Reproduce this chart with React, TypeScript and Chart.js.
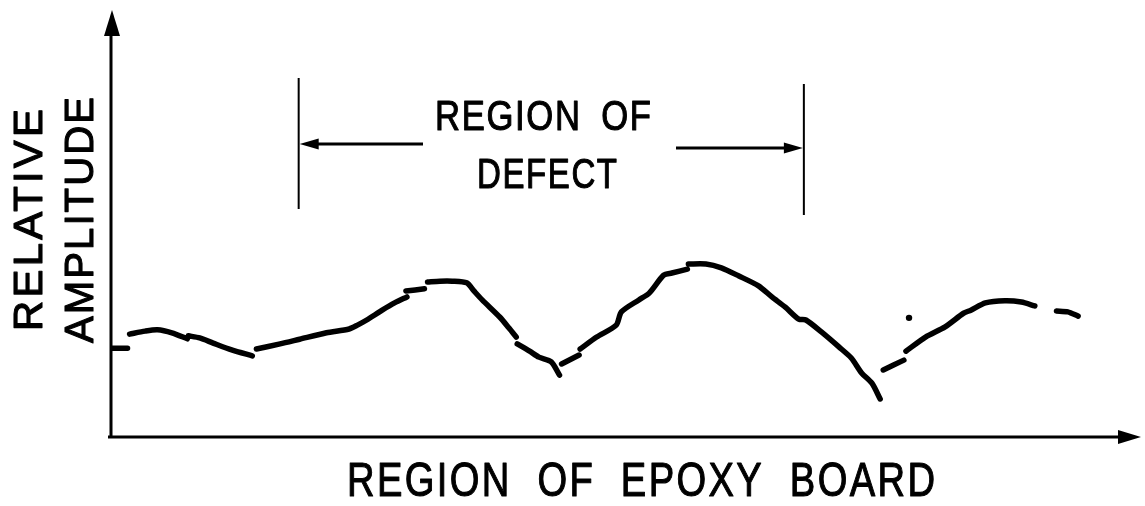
import React, { useEffect, useRef } from "react";
import { Chart, registerables } from "chart.js";

Chart.register(...registerables);

// Position along the epoxy board (0 = origin, 100 = arrow tip); null amplitude = pen lift
const boardPosition: number[] = [
  0, 1.7, 1.8,
  1.9, 3.4, 4.6, 6.0, 7.5, 7.55,
  7.6, 8.7, 10.0, 11.8, 13.8, 14.0,
  14.2, 16.5, 18.4, 21.0, 23.2, 24.0, 24.9, 26.4, 27.6, 28.8, 28.75,
  28.7, 30.5, 30.6,
  30.8, 32.0, 33.2, 34.6, 35.3, 36.1, 37.8, 38.7, 39.4, 39.45,
  39.5, 40.7, 41.6, 42.8, 43.6, 43.7,
  43.8, 45.5, 45.55,
  45.6, 47.2, 49.1, 49.6, 51.3, 52.3, 53.7, 54.5, 56.0, 56.05,
  56.1, 57.8, 59.3, 61.0, 62.9, 64.2, 65.5, 66.8, 67.5, 69.0, 70.7, 71.9, 72.9, 73.9, 74.7, 74.85,
  75.0, 77.0, 77.1,
  77.2, 79.1, 81.0, 82.8, 83.5, 84.9, 86.8, 88.4, 89.7, 90.7,
  91.8, 92.9, 93.9,
];

const relativeAmplitude: (number | null)[] = [
  20.8, 20.8, null,
  24.1, 24.8, 25.1, 24.4, 23.0, null,
  23.7, 23.2, 22.0, 20.4, 19.0, null,
  20.6, 21.8, 22.9, 24.4, 25.3, 26.2, 27.4, 29.7, 31.4, 32.8, null,
  34.2, 34.7, null,
  36.3, 36.5, 36.5, 36.1, 34.2, 32.1, 28.1, 25.5, 23.4, null,
  21.8, 20.1, 18.7, 17.6, 14.5, null,
  17.1, 19.2, null,
  20.6, 23.4, 26.2, 29.3, 32.1, 33.7, 37.9, 38.4, 39.3, null,
  40.5, 40.5, 39.6, 37.7, 35.4, 32.8, 30.4, 27.6, 27.4, 24.6, 21.1, 18.5, 15.0, 12.6, 8.9, null,
  15.7, 18.0, null,
  20.1, 23.4, 25.8, 29.0, 29.7, 31.4, 31.9, 31.6, 30.7, null,
  29.5, 29.3, 28.3,
];

const strayDotPosition: number[] = [77.5];
const strayDotAmplitude: number[] = [27.9];

const defectStart = 18.3;
const defectEnd = 67.3;

const xAxisTitle = "REGION OF EPOXY BOARD";
const yAxisTitle = ["RELATIVE", "AMPLITUDE"];
const defectLabel = ["REGION OF", "DEFECT"];

const FONT = '"Liberation Sans", Arial, Helvetica, sans-serif';
const INK = "#000000";

function fitText(
  ctx: CanvasRenderingContext2D,
  text: string,
  x: number,
  y: number,
  size: number,
  width: number,
  angle = 0,
  letter = 0,
  word = 0
) {
  ctx.save();
  ctx.font = `${size}px ${FONT}`;
  const c: any = ctx;
  if ("letterSpacing" in c) c.letterSpacing = `${letter}px`;
  if ("wordSpacing" in c) c.wordSpacing = `${word}px`;
  const w = ctx.measureText(text).width - letter;
  ctx.translate(x, y);
  if (angle) ctx.rotate(angle);
  ctx.scale(width / w, 1);
  ctx.textAlign = "left";
  ctx.textBaseline = "alphabetic";
  ctx.fillStyle = INK;
  ctx.strokeStyle = INK;
  ctx.lineWidth = 1.1;
  ctx.lineJoin = "round";
  ctx.fillText(text, -w / 2, 0);
  ctx.strokeText(text, -w / 2, 0);
  ctx.restore();
}

function arrowHead(
  ctx: CanvasRenderingContext2D,
  tipX: number,
  tipY: number,
  dirX: number,
  dirY: number,
  len: number,
  half: number
) {
  const bx = tipX - dirX * len;
  const by = tipY - dirY * len;
  const px = -dirY;
  const py = dirX;
  ctx.beginPath();
  ctx.moveTo(tipX, tipY);
  ctx.lineTo(bx + px * half, by + py * half);
  ctx.lineTo(bx - px * half, by - py * half);
  ctx.closePath();
  ctx.fill();
}

const drawingPlugin = {
  id: "patentDrawing",
  afterDatasetsDraw(chart: any) {
    const ctx: CanvasRenderingContext2D = chart.ctx;
    const { left, right, top, bottom } = chart.chartArea;
    const xs = chart.scales.x;
    ctx.save();
    ctx.strokeStyle = INK;
    ctx.fillStyle = INK;
    ctx.lineCap = "butt";

    // axes
    ctx.lineWidth = 3;
    ctx.beginPath();
    ctx.moveTo(left + 1, bottom + 1);
    ctx.lineTo(left + 1, top + 20);
    ctx.stroke();
    arrowHead(ctx, left + 2, top, 0, -1, 26, 8);

    ctx.beginPath();
    ctx.moveTo(left - 2, bottom);
    ctx.lineTo(right - 18, bottom);
    ctx.stroke();
    arrowHead(ctx, right, bottom, 1, 0, 23, 7);

    // region of defect markers
    const x0 = xs.getPixelForValue(defectStart);
    const x1 = xs.getPixelForValue(defectEnd);
    ctx.lineWidth = 2;
    ctx.beginPath();
    ctx.moveTo(x0, 78);
    ctx.lineTo(x0, 209);
    ctx.moveTo(x1, 84);
    ctx.lineTo(x1, 215);
    ctx.stroke();

    ctx.lineWidth = 3;
    ctx.beginPath();
    ctx.moveTo(423, 144);
    ctx.lineTo(x0 + 12, 144);
    ctx.moveTo(676, 148);
    ctx.lineTo(x1 - 12, 148);
    ctx.stroke();
    arrowHead(ctx, x0 + 1, 144, -1, 0, 19, 5.5);
    arrowHead(ctx, x1 - 1, 148, 1, 0, 19, 5.5);

    // texts
    fitText(ctx, defectLabel[0], 543, 130, 42, 216, 0, 2, 10);
    fitText(ctx, defectLabel[1], 547, 188, 42, 140, 0, 2, 0);
    fitText(ctx, yAxisTitle[0], 42, 220, 40, 222, -Math.PI / 2, 3, 0);
    fitText(ctx, yAxisTitle[1], 93, 220, 40, 246, -Math.PI / 2, 2, 0);
    fitText(ctx, xAxisTitle, 641, 496, 48, 588, 0, 3, 16);
    ctx.restore();
  },
};

export default function App() {
  const canvasRef = useRef<HTMLCanvasElement | null>(null);

  useEffect(() => {
    const canvas = canvasRef.current;
    if (!canvas) return;
    const curve = boardPosition.map((x, i) => ({ x, y: relativeAmplitude[i] }));
    const dots = strayDotPosition.map((x, i) => ({ x, y: strayDotAmplitude[i] }));
    const chart = new Chart(canvas, {
      type: "line",
      data: {
        datasets: [
          {
            data: curve as any,
            borderColor: INK,
            borderWidth: 5.5,
            borderCapStyle: "round",
            borderJoinStyle: "round",
            pointRadius: 0,
            tension: 0.25,
            spanGaps: false,
            fill: false,
          },
          {
            data: dots as any,
            showLine: false,
            pointRadius: 3.2,
            pointBackgroundColor: INK,
            pointBorderWidth: 0,
          },
        ],
      },
      options: {
        animation: false,
        responsive: false,
        maintainAspectRatio: false,
        devicePixelRatio: 1,
        layout: { padding: { left: 110, right: 2, top: 10, bottom: 69 } },
        plugins: {
          legend: { display: false },
          tooltip: { enabled: false },
          title: { display: false },
        },
        scales: {
          x: { type: "linear", min: 0, max: 100, display: false },
          y: { type: "linear", min: 0, max: 100, display: false },
        },
      },
      plugins: [drawingPlugin],
    });
    return () => chart.destroy();
  }, []);

  return (
    <div style={{ position: "fixed", left: 0, top: 0, width: 1145, height: 506, background: "#fff" }}>
      <canvas ref={canvasRef} width={1145} height={506} style={{ display: "block" }} />
    </div>
  );
}
